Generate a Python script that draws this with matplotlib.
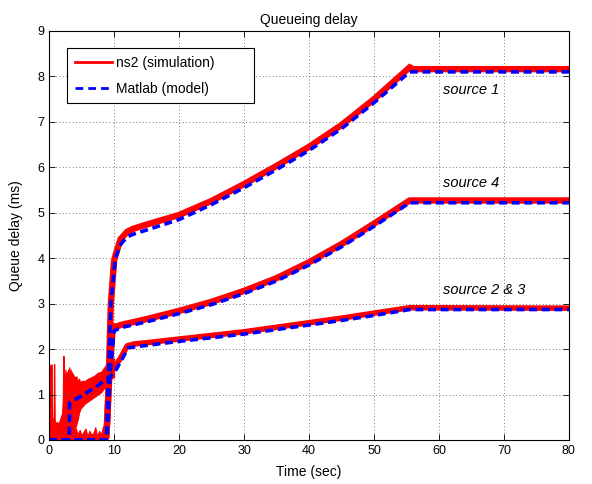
import numpy as np
import matplotlib
matplotlib.use("Agg")
import matplotlib.pyplot as plt

plt.rcParams['font.family'] = ['Liberation Sans', 'DejaVu Sans']

# --- Matlab fluid model (queue delay in ms) ---
t_model_s1 = [0, 8.8, 9.5, 10.2, 11.0, 12.0, 13.0, 15.0, 20.0, 25.0, 30.0, 35.0,
              40.0, 45.0, 50.0, 55.5, 80.0]
q_model_s1 = [0, 0, 3.0, 4.0, 4.3, 4.47, 4.53, 4.62, 4.85, 5.18, 5.55, 5.95,
              6.37, 6.85, 7.42, 8.1, 8.1]

t_model_s4 = [0, 8.9, 9.4, 10.0, 11.0, 15.0, 20.0, 25.0, 30.0, 35.0, 40.0, 45.0,
              50.0, 55.5, 80.0]
q_model_s4 = [0, 0, 1.5, 2.4, 2.47, 2.6, 2.78, 2.98, 3.22, 3.5, 3.85, 4.25,
              4.7, 5.22, 5.22]

t_model_s23 = [0, 3.1, 3.15, 5.0, 7.0, 9.0, 10.0, 11.0, 12.2, 15.0, 20.0, 25.0,
               30.0, 35.0, 40.0, 45.0, 50.0, 55.5, 80.0]
q_model_s23 = [0, 0, 0.82, 0.97, 1.15, 1.35, 1.47, 1.72, 2.03, 2.08, 2.17, 2.25,
               2.33, 2.43, 2.53, 2.63, 2.74, 2.87, 2.87]

# --- ns2 simulation, steady part (centre of the noisy trace) ---
t_ns2_s1 = [8.8, 9.0, 9.5, 10.0, 10.5, 11.0, 12.0, 13.0, 15.0, 20.0, 25.0, 30.0,
            35.0, 40.0, 45.0, 50.0, 55.5, 56.0, 80.0]
q_ns2_s1 = [0.1, 0.5, 3.0, 3.95, 4.2, 4.42, 4.58, 4.65, 4.74, 4.95, 5.26, 5.63,
            6.03, 6.45, 6.93, 7.5, 8.2, 8.16, 8.16]

t_ns2_s4 = [8.8, 9.3, 9.8, 10.5, 11.0, 15.0, 20.0, 25.0, 30.0, 35.0, 40.0, 45.0,
            50.0, 55.5, 80.0]
q_ns2_s4 = [0.1, 1.5, 2.5, 2.5, 2.53, 2.66, 2.84, 3.04, 3.28, 3.56, 3.91, 4.31,
            4.76, 5.27, 5.27]

t_ns2_s23 = [9.8, 11.0, 12.0, 13.0, 15.0, 20.0, 25.0, 30.0, 35.0, 40.0, 45.0,
             50.0, 55.5, 80.0]
q_ns2_s23 = [1.55, 1.8, 2.07, 2.11, 2.14, 2.22, 2.3, 2.38, 2.48, 2.58, 2.68,
             2.79, 2.91, 2.9]

# --- ns2 simulation, start-up transient of sources 2 & 3 (envelope) ---
t_burst = [0.0, 0.03, 0.1, 0.13, 0.2, 0.25, 0.32, 0.38, 0.45, 0.55, 0.7, 0.74,
           0.8, 0.85, 1.0, 1.2, 1.4, 1.6, 1.8, 2.0, 2.1, 2.18, 2.22, 2.3, 2.4,
           2.5, 2.6, 2.7, 2.8, 2.9, 3.0, 3.1, 3.2, 3.3, 3.4, 3.5, 3.6, 3.7,
           3.8, 3.9, 4.0, 4.2, 4.4, 4.6, 4.8, 5.0, 5.5, 6.0, 6.5, 7.0, 7.5,
           8.0, 8.5, 9.0, 9.5, 10.0]
q_burst_hi = [0.5, 1.65, 1.65, 0.6, 0.45, 0.5, 1.66, 1.66, 0.5, 0.45, 0.5, 1.67,
              1.67, 0.45, 0.35, 0.4, 0.35, 0.42, 0.5, 0.6, 0.9, 1.85, 1.85, 1.35,
              1.15, 1.55, 1.1, 1.5, 1.2, 1.55, 1.3, 1.6, 1.35, 1.55, 1.3, 1.5,
              1.35, 1.45, 1.3, 1.4, 1.35, 1.4, 1.28, 1.35, 1.25, 1.3, 1.3, 1.35,
              1.38, 1.42, 1.48, 1.5, 1.6, 1.7, 1.72, 1.8]
q_burst_lo = [0, 0, 0, 0, 0, 0, 0, 0, 0, 0, 0, 0,
              0, 0, 0, 0, 0, 0, 0, 0, 0, 0, 0, 0, 0,
              0, 0, 0, 0, 0, 0.05, 0.06, 0.08, 0.1, 0.12, 0.15, 0.17, 0.2,
              0.22, 0.24, 0.25, 0.35, 0.45, 0.6, 0.68, 0.72, 0.8, 0.85, 0.9, 0.95,
              1.0, 1.05, 1.15, 1.25, 1.35, 1.38]

# --- ns2 simulation, floor noise of sources 1 and 4 before they start ---
t_floor = [3.0, 3.5, 3.8, 4.1, 4.4, 4.7, 5.0, 5.3, 5.6, 5.9, 6.2, 6.5, 6.8,
           7.1, 7.4, 7.7, 8.0, 8.3, 8.6, 8.8]
q_floor = [0.2, 0.3, 0.2, 0.25, 0.12, 0.22, 0.1, 0.18, 0.25, 0.08, 0.2, 0.12,
           0.15, 0.28, 0.08, 0.2, 0.12, 0.3, 0.12, 0.2]

labels = ["source 1", "source 4", "source 2 & 3"]
label_pos = [(60.6, 7.7), (60.6, 5.66), (60.6, 3.3)]

RED = (1.0, 0.0, 0.0)
BLUE = (0.0, 0.0, 1.0)

fig = plt.figure(figsize=(5.92, 4.84), dpi=100)
ax = fig.add_axes([0.083, 0.091, 0.878, 0.845])

# ns2 traces
ax.fill_between(t_burst, q_burst_lo, q_burst_hi, color=RED, lw=0.8)
ax.fill_between(t_floor, 0, q_floor, color=RED, lw=0.8)
ax.plot(t_ns2_s1, q_ns2_s1, color=RED, lw=4.6, solid_joinstyle='miter',
        label='ns2 (simulation)')
ax.plot(t_ns2_s4, q_ns2_s4, color=RED, lw=4.6)
ax.plot(t_ns2_s23, q_ns2_s23, color=RED, lw=4.0)

# model curves
for t, q in [(t_model_s1, q_model_s1), (t_model_s4, q_model_s4),
             (t_model_s23, q_model_s23)]:
    ax.plot(t, q, color=BLUE, lw=2.6, dashes=(2.2, 1.3))

for text, (x, y) in zip(labels, label_pos):
    ax.text(x, y, text, fontsize=10.5, style='italic', ha='left', va='center')

ax.set_xlim(0, 80)
ax.set_ylim(0, 9)
ax.set_xticks(np.arange(0, 81, 10))
ax.set_yticks(np.arange(0, 10, 1))
ax.tick_params(direction='in', length=4, width=0.6, labelsize=9,
               top=True, right=True)
ax.grid(True, color='0.3', lw=0.6, dashes=(1, 3))
for sp in ax.spines.values():
    sp.set_linewidth(0.8)

ax.set_title('Queueing delay', fontsize=10, pad=5)
ax.set_xlabel('Time (sec)', fontsize=10, labelpad=6)
ax.set_ylabel('Queue delay (ms)', fontsize=10, labelpad=10)

handles = [plt.Line2D([], [], color=RED, lw=2),
           plt.Line2D([], [], color=BLUE, lw=2, dashes=(2.8, 1.8))]
leg = ax.legend(handles, ['ns2 (simulation)', 'Matlab (model)'],
                loc='upper left', bbox_to_anchor=(0.035, 0.958, 0.36, 0.0),
                mode='expand', fontsize=10, handlelength=2.66,
                handletextpad=0.3, borderpad=0.55, labelspacing=0.85,
                fancybox=False, framealpha=1, borderaxespad=0)
leg.get_frame().set_edgecolor('black')
leg.get_frame().set_linewidth(0.8)

fig.savefig('out.png', dpi=100)
